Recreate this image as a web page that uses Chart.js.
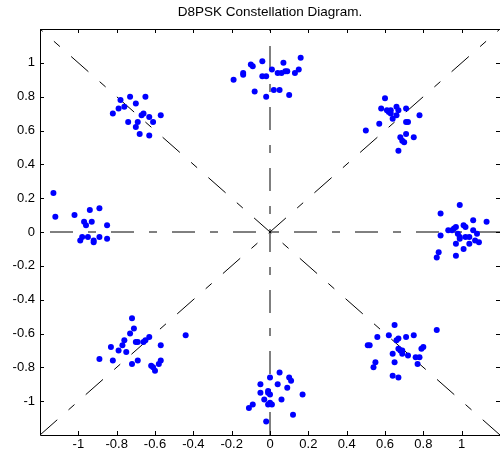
<!DOCTYPE html>
<html>
<head>
<meta charset="utf-8">
<title>D8PSK Constellation Diagram</title>
<script src="https://cdn.jsdelivr.net/npm/chart.js@4.4.1/dist/chart.umd.min.js"></script>
<style>
  html, body { margin: 0; padding: 0; background: #fff; overflow: hidden; }
  #wrap { width: 500px; height: 450px; }
</style>
</head>
<body>
<div id="wrap"><canvas id="chart"></canvas></div>
<script>
// =======================================
// DATA
// =======================================
// received symbols, in-phase (I) and quadrature (Q), one row per cluster
const symbolI = [
  // NW
  -0.82, -0.78, -0.79, -0.76, -0.73, -0.74, -0.70, -0.70, -0.69, -0.68, -0.67, -0.66, -0.65, -0.63, -0.63, -0.61, -0.57,
  // W
  -1.13, -1.12, -1.02, -0.94, -0.89, -0.97, -0.96, -0.93, -0.85, -0.99, -0.98, -0.95, -0.92, -0.92, -0.89, -0.85,
  // SW
  -0.72, -0.71, -0.73, -0.63, -0.65, -0.66, -0.70, -0.69, -0.76, -0.77, -0.83, -0.79, -0.75, -0.57, -0.44, -0.89,
  -0.82, -0.69, -0.72, -0.62, -0.61, -0.60, -0.58, -0.57,
  // S
  0.00, 0.05, -0.05, 0.04, 0.10, 0.11, 0.09, -0.01, -0.01, -0.05, 0.00, -0.03, 0.06, 0.17, -0.01, 0.00, 0.01, -0.09,
  -0.11, 0.12, -0.02,
  // SE
  0.65, 0.62, 0.75, 0.87, 0.56, 0.66, 0.67, 0.71, 0.51, 0.52, 0.67, 0.68, 0.69, 0.64, 0.69, 0.72, 0.79, 0.80, 0.76,
  0.78, 0.55, 0.54, 0.65, 0.77, 0.64, 0.67,
  // E
  0.99, 0.89, 1.06, 1.13, 1.01, 1.02, 0.97, 0.96, 0.93, 0.95, 1.06, 0.98, 1.08, 0.89, 0.99, 1.02, 1.04, 0.99, 1.07,
  1.09, 0.97, 1.04, 1.01, 0.88, 0.87, 0.97,
  // NE
  0.60, 0.58, 0.61, 0.62, 0.63, 0.66, 0.67, 0.63, 0.66, 0.71, 0.64, 0.78, 0.57, 0.50, 0.71, 0.72, 0.71, 0.68, 0.75,
  0.69, 0.70, 0.67,
  // N
  -0.19, -0.14, -0.14, -0.10, -0.09, -0.04, -0.04, -0.02, -0.08, -0.02, 0.01, 0.04, 0.06, 0.07, 0.08, 0.09, 0.13,
  0.15, 0.16, 0.02, 0.05, 0.10
];

const symbolQ = [
  // NW
  0.70, 0.78, 0.73, 0.74, 0.80, 0.65, 0.76, 0.62, 0.65, 0.58, 0.69, 0.70, 0.80, 0.68, 0.57, 0.65, 0.69,
  // W
  0.23, 0.09, 0.10, 0.13, 0.14, 0.06, 0.04, 0.06, 0.04, -0.05, -0.03, -0.03, -0.05, -0.06, -0.03, -0.04,
  // SW
  -0.51, -0.57, -0.60, -0.62, -0.64, -0.65, -0.65, -0.65, -0.64, -0.67, -0.68, -0.70, -0.71, -0.67, -0.61, -0.75,
  -0.76, -0.76, -0.78, -0.79, -0.80, -0.82, -0.78, -0.76,
  // S
  -0.86, -0.83, -0.90, -0.90, -0.86, -0.88, -0.92, -0.94, -0.95, -0.95, -0.96, -0.99, -0.99, -0.96, -1.02, -1.01,
  -1.02, -1.02, -1.04, -1.08, -1.12,
  // SE
  -0.55, -0.61, -0.61, -0.58, -0.62, -0.64, -0.63, -0.62, -0.67, -0.67, -0.69, -0.70, -0.70, -0.72, -0.72, -0.73,
  -0.69, -0.68, -0.74, -0.74, -0.77, -0.80, -0.77, -0.78, -0.85, -0.86,
  // E
  0.16, 0.11, 0.07, 0.06, 0.04, 0.03, 0.03, 0.02, 0.01, 0.01, 0.01, -0.01, -0.01, -0.02, -0.03, -0.03, -0.03, -0.04,
  -0.05, -0.06, -0.07, -0.07, -0.10, -0.12, -0.15, -0.14,
  // NE
  0.79, 0.73, 0.72, 0.71, 0.72, 0.74, 0.72, 0.70, 0.69, 0.73, 0.67, 0.69, 0.64, 0.60, 0.65, 0.65, 0.58, 0.56, 0.56,
  0.54, 0.53, 0.48,
  // N
  0.90, 0.94, 0.93, 0.99, 0.98, 1.01, 0.92, 0.92, 0.83, 0.80, 0.96, 0.94, 0.94, 1.00, 0.95, 0.95, 0.94, 0.96, 1.03,
  0.84, 0.84, 0.81
];

const xTicks = [-1, -0.8, -0.6, -0.4, -0.2, 0, 0.2, 0.4, 0.6, 0.8, 1];
const yTicks = [-1, -0.8, -0.6, -0.4, -0.2, 0, 0.2, 0.4, 0.6, 0.8, 1];
const axisLimit = 1.2;

// decision boundary lines through the origin, given by the angle (deg) of the edge each one starts from
const guideStartAngles = [0, 270, 225, 315];

// =======================================
// HELPERS
// =======================================
// point where a ray from the origin at angle a meets the axis box
function edgePoint(a) {
  const r = a * Math.PI / 180;
  const c = Math.cos(r), s = Math.sin(r);
  const m = Math.max(Math.abs(c), Math.abs(s));
  return { x: Math.round(axisLimit * c / m * 1000) / 1000, y: Math.round(axisLimit * s / m * 1000) / 1000 };
}

function guideDataset(a) {
  return {
    type: "line",
    data: [edgePoint(a), edgePoint(a + 180)],
    showLine: true,
    borderColor: "#000",
    borderWidth: 1,
    borderDash: [23, 15, 8, 15],
    pointRadius: 0,
    fill: false,
    order: 2
  };
}

// box + inward tick marks, MATLAB style
const framePlugin = {
  id: "frame",
  afterDatasetsDraw(chart) {
    const { ctx, chartArea: a, scales } = chart;
    const t = 4;
    ctx.save();
    ctx.strokeStyle = "#000";
    ctx.lineWidth = 1;
    ctx.beginPath();
    ctx.moveTo(a.left + 0.5, a.top + 0.5);
    ctx.lineTo(a.right + 0.5, a.top + 0.5);
    ctx.lineTo(a.right + 0.5, a.bottom + 0.5);
    ctx.lineTo(a.left + 0.5, a.bottom + 0.5);
    ctx.closePath();
    xTicks.forEach(v => {
      const px = Math.round(scales.x.getPixelForValue(v)) + 0.5;
      ctx.moveTo(px, a.bottom); ctx.lineTo(px, a.bottom - t);
      ctx.moveTo(px, a.top); ctx.lineTo(px, a.top + t);
    });
    yTicks.forEach(v => {
      const py = Math.round(scales.y.getPixelForValue(v)) + 0.5;
      ctx.moveTo(a.left, py); ctx.lineTo(a.left + t, py);
      ctx.moveTo(a.right, py); ctx.lineTo(a.right - t, py);
    });
    ctx.stroke();
    ctx.restore();
  }
};

// fixed axis box sizes so the plot area matches the figure
function fixScale(size) {
  return s => {
    if (s.isHorizontal()) s.height = size; else s.width = size;
    s.paddingLeft = s.paddingRight = s.paddingTop = s.paddingBottom = 0;
  };
}

// =======================================
// CHART
// =======================================
const fontFamily = "'Liberation Sans', Arial, Helvetica, sans-serif";
const tickFont = { family: fontFamily, size: 13 };
const points = symbolI.map((x, i) => ({ x, y: symbolQ[i] }));

new Chart(document.getElementById("chart"), {
  type: "scatter",
  data: {
    datasets: [
      {
        data: points,
        backgroundColor: "#0000ff",
        borderWidth: 0,
        pointRadius: 3,
        pointHoverRadius: 3,
        order: 1
      },
      ...guideStartAngles.map(guideDataset)
    ]
  },
  options: {
    responsive: true,
    maintainAspectRatio: false,
    animation: false,
    layout: { padding: 0, autoPadding: false },
    plugins: {
      legend: { display: false },
      tooltip: { enabled: false },
      title: {
        display: true,
        text: "D8PSK Constellation Diagram.",
        fullSize: false,
        color: "#000",
        font: { family: fontFamily, size: 13.5, weight: "normal", lineHeight: 1.2 },
        padding: { top: 4.5, bottom: 8.3 }
      }
    },
    scales: {
      x: {
        type: "linear",
        min: -axisLimit,
        max: axisLimit,
        grid: { display: false, drawTicks: false },
        border: { display: false },
        afterBuildTicks: s => { s.ticks = xTicks.map(v => ({ value: v })); },
        afterFit: fixScale(15),
        ticks: { font: tickFont, color: "#000", padding: 2, maxRotation: 0, autoSkip: false, callback: v => String(v) }
      },
      y: {
        type: "linear",
        min: -axisLimit,
        max: axisLimit,
        grid: { display: false, drawTicks: false },
        border: { display: false },
        afterBuildTicks: s => { s.ticks = yTicks.map(v => ({ value: v })); },
        afterFit: fixScale(40),
        ticks: { font: tickFont, color: "#000", padding: 5, autoSkip: false, callback: v => String(v) }
      }
    }
  },
  plugins: [framePlugin]
});
</script>
</body>
</html>
